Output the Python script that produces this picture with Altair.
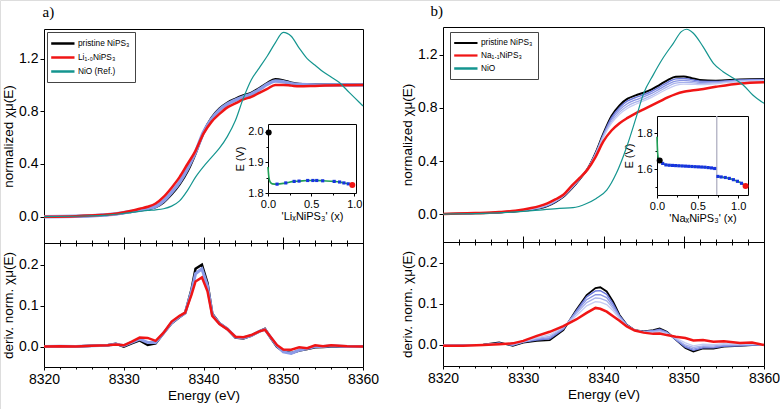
import altair as alt
import pandas as pd

FONT = "Liberation Sans"
SERIF = "Liberation Serif"
BLACK, RED, TEAL = "#000000", "#f01515", "#14958f"
GREEN, DOTBLUE = "#1f9e55", "#1733e0"

# ---------------- energy grids / ticks ----------------
E_TOP = [8320, 8324, 8327, 8329, 8331, 8332, 8333, 8334, 8335, 8336, 8337, 8338, 8339, 8340,
         8341, 8342, 8343, 8344, 8345, 8346, 8347, 8348, 8349, 8350, 8351, 8352, 8354, 8357, 8360]
E_MAJOR = [8320, 8330, 8340, 8350, 8360]
E_MINOR = [8322, 8324, 8326, 8328, 8332, 8334, 8336, 8338, 8342, 8344, 8346, 8348,
           8352, 8354, 8356, 8358]

# ---------------- panel a : XANES ----------------
A_NAMES = ["pristine NiPS₃", "Li₁.₀NiPS₃", "NiO (Ref.)"]
A_PRISTINE = [0.0, 0.003, 0.01, 0.02, 0.038, 0.048, 0.058, 0.072, 0.11, 0.17, 0.245, 0.345, 0.48, 0.64,
              0.75, 0.82, 0.865, 0.895, 0.92, 0.94, 0.975, 1.015, 1.043, 1.035, 1.018, 1.008, 1.003, 1.002, 1.002]
A_BLUE = [0.0, 0.003, 0.011, 0.021, 0.04, 0.051, 0.062, 0.078, 0.12, 0.185, 0.262, 0.365, 0.49, 0.64,
          0.74, 0.81, 0.855, 0.885, 0.91, 0.93, 0.965, 1.005, 1.03, 1.025, 1.01, 1.003, 1.0, 1.0, 1.0]
A_LI = [0.0, 0.004, 0.012, 0.022, 0.045, 0.06, 0.075, 0.1, 0.15, 0.22, 0.30, 0.40, 0.50, 0.63,
        0.72, 0.78, 0.83, 0.86, 0.89, 0.91, 0.94, 0.97, 1.0, 1.0, 0.995, 0.99, 0.993, 0.998, 1.0]
E_NIO_A = [8320, 8325, 8328, 8330, 8332, 8333, 8334, 8335, 8336, 8337, 8338, 8339, 8340, 8341, 8342,
           8343, 8344, 8345, 8346, 8347, 8348, 8349, 8350, 8351, 8352, 8353, 8354, 8355, 8356, 8357,
           8358, 8359, 8360]
A_NIO = [0.0, 0.005, 0.012, 0.025, 0.04, 0.048, 0.052, 0.06, 0.08, 0.12, 0.2, 0.3, 0.38, 0.45, 0.52,
         0.61, 0.73, 0.9, 1.04, 1.13, 1.22, 1.32, 1.40, 1.37, 1.28, 1.2, 1.15, 1.10, 1.06, 1.02,
         0.96, 0.9, 0.84]

# ---------------- panel a : derivative ----------------
E_DER_A = [8320, 8322, 8324, 8326, 8328, 8329, 8330, 8331, 8332, 8333, 8334, 8335, 8336, 8337,
           8337.7, 8338.5, 8339, 8339.8, 8340.5, 8341.1, 8342, 8343, 8344, 8345, 8346, 8347, 8347.7,
           8348.4, 8349.2, 8350, 8351, 8352, 8353, 8354, 8355, 8356, 8358, 8360]
DA_PRISTINE = [0.0, 0.001, 0.0, 0.002, 0.003, 0.007, 0.0, 0.008, 0.015, 0.004, 0.008, 0.033, 0.057,
               0.072, 0.082, 0.14, 0.19, 0.2, 0.155, 0.08, 0.057, 0.043, 0.022, 0.02, 0.027, 0.037,
               0.043, 0.022, 0.0, -0.012, -0.016, -0.01, -0.006, -0.002, -0.001, 0.0, 0.0, 0.0]
DA_BLUE = [0.0, 0.001, 0.0, 0.002, 0.003, 0.006, 0.002, 0.01, 0.018, 0.01, 0.01, 0.033, 0.058,
           0.073, 0.082, 0.135, 0.178, 0.19, 0.148, 0.078, 0.056, 0.043, 0.023, 0.021, 0.027, 0.037,
           0.042, 0.023, 0.002, -0.013, -0.017, -0.009, -0.005, 0.0, 0.0, 0.002, 0.0, 0.0]
DA_LI = [0.0, 0.001, 0.0, 0.002, 0.003, 0.005, 0.003, 0.012, 0.022, 0.021, 0.014, 0.034, 0.061,
         0.075, 0.083, 0.127, 0.159, 0.169, 0.135, 0.075, 0.055, 0.042, 0.024, 0.023, 0.028, 0.037,
         0.041, 0.024, 0.004, -0.007, -0.008, -0.002, -0.004, 0.003, 0.001, 0.003, 0.001, 0.0]

# ---------------- panel b : XANES ----------------
B_NAMES = ["pristine NiPS₃", "Na₁.₁NiPS₃", "NiO"]
B_PRISTINE = [0.0, 0.005, 0.012, 0.02, 0.033, 0.043, 0.06, 0.09, 0.13, 0.19, 0.26, 0.34, 0.46, 0.61,
              0.74, 0.82, 0.87, 0.895, 0.915, 0.94, 0.975, 1.01, 1.035, 1.037, 1.025, 1.012, 1.006, 1.015, 1.018]
B_BLUE1 = [0.0, 0.005, 0.012, 0.021, 0.034, 0.045, 0.062, 0.092, 0.132, 0.192, 0.261, 0.34, 0.456, 0.603,
           0.727, 0.804, 0.853, 0.879, 0.90, 0.926, 0.96, 0.994, 1.02, 1.023, 1.014, 1.003, 1.001, 1.011, 1.015]
B_BLUE2 = [0.0, 0.006, 0.013, 0.021, 0.036, 0.047, 0.065, 0.095, 0.134, 0.195, 0.263, 0.339, 0.453, 0.595,
           0.713, 0.786, 0.834, 0.861, 0.884, 0.91, 0.944, 0.978, 1.003, 1.008, 1.002, 0.994, 0.995, 1.008, 1.012]
B_BLUE3 = [0.0, 0.006, 0.013, 0.022, 0.038, 0.049, 0.068, 0.098, 0.136, 0.198, 0.264, 0.338, 0.449, 0.587,
           0.698, 0.769, 0.815, 0.844, 0.867, 0.894, 0.928, 0.961, 0.987, 0.993, 0.991, 0.984, 0.989, 1.004, 1.009]
B_BLUE4 = [0.0, 0.006, 0.014, 0.023, 0.039, 0.052, 0.07, 0.10, 0.138, 0.20, 0.265, 0.338, 0.445, 0.58,
           0.685, 0.753, 0.798, 0.828, 0.853, 0.88, 0.913, 0.945, 0.97, 0.98, 0.979, 0.976, 0.983, 1.0, 1.006]
B_NA = [0.0, 0.007, 0.015, 0.025, 0.045, 0.06, 0.08, 0.11, 0.145, 0.21, 0.27, 0.335, 0.43, 0.55,
        0.63, 0.685, 0.725, 0.76, 0.79, 0.82, 0.85, 0.88, 0.905, 0.922, 0.932, 0.94, 0.96, 0.985, 0.995]
E_NIO_B = [8320, 8325, 8328, 8330, 8332, 8334.5, 8336.2, 8337.9, 8339.1, 8340.4, 8341.6, 8342.9, 8344.1,
           8345, 8346.2, 8347.4, 8348.7, 8349.7, 8350.35, 8351.2, 8352.4, 8353.7, 8354.9, 8356.2,
           8357.4, 8358.6, 8360]
B_NIO = [0.0, 0.005, 0.012, 0.02, 0.03, 0.043, 0.048, 0.08, 0.118, 0.18, 0.307, 0.508, 0.735, 0.91,
         1.05, 1.175, 1.288, 1.376, 1.394, 1.364, 1.263, 1.137, 1.074, 1.024, 0.974, 0.898, 0.835]

# ---------------- panel b : derivative ----------------
E_DER_B = [8320, 8322.5, 8325, 8327, 8328.7, 8330, 8331.7, 8333.3, 8335, 8336.6, 8337.9, 8339, 8339.6,
           8340.4, 8341.2, 8342, 8342.9, 8343.9, 8345, 8346.2, 8347, 8347.9, 8349, 8350.2, 8351.2,
           8352.4, 8353.7, 8355, 8357, 8358.5, 8360]
DB_PRISTINE = [0.0, 0.0, 0.001, 0.006, -0.002, 0.006, 0.01, 0.012, 0.036, 0.085, 0.121, 0.138, 0.14,
               0.13, 0.105, 0.073, 0.049, 0.036, 0.033, 0.036, 0.04, 0.032, 0.013, -0.007, -0.016,
               -0.008, -0.009, -0.004, -0.002, 0.0, 0.0]
DB_BLUE1 = [0.0, 0.0, 0.001, 0.005, -0.001, 0.007, 0.012, 0.015, 0.038, 0.083, 0.117, 0.131, 0.132,
            0.123, 0.1, 0.071, 0.049, 0.036, 0.033, 0.035, 0.038, 0.031, 0.013, -0.005, -0.013,
            -0.007, -0.007, -0.003, -0.002, 0.0, 0.0]
DB_BLUE2 = [0.0, 0.0, 0.001, 0.004, 0.0, 0.007, 0.014, 0.018, 0.04, 0.08, 0.11, 0.122, 0.122,
            0.115, 0.094, 0.069, 0.048, 0.036, 0.032, 0.034, 0.036, 0.03, 0.014, -0.003, -0.01,
            -0.004, -0.005, -0.001, 0.0, 0.001, 0.0]
DB_BLUE3 = [0.0, -0.001, 0.001, 0.004, 0.001, 0.008, 0.016, 0.021, 0.042, 0.076, 0.103, 0.114, 0.113,
            0.107, 0.089, 0.067, 0.047, 0.036, 0.032, 0.032, 0.034, 0.029, 0.015, 0.0, -0.006,
            -0.002, -0.002, 0.001, 0.001, 0.002, 0.0]
DB_BLUE4 = [-0.001, -0.001, 0.0, 0.003, 0.002, 0.008, 0.018, 0.025, 0.044, 0.071, 0.095, 0.105, 0.104,
            0.098, 0.083, 0.064, 0.046, 0.036, 0.031, 0.03, 0.032, 0.027, 0.017, 0.005, -0.002,
            0.002, 0.001, 0.003, 0.002, 0.003, 0.0]
DB_NA = [-0.002, -0.002, 0.0, 0.002, 0.004, 0.01, 0.022, 0.032, 0.046, 0.062, 0.078, 0.09, 0.088,
         0.081, 0.07, 0.059, 0.045, 0.035, 0.03, 0.027, 0.028, 0.024, 0.02, 0.017, 0.011, 0.012,
         0.008, 0.009, 0.005, 0.006, 0.0]

# ---------------- insets ----------------
IA_LINE_X = [0.0, 0.01, 0.025, 0.05, 0.105, 0.206, 0.303, 0.36, 0.46, 0.52, 0.565, 0.634, 0.767,
             0.83, 0.88, 0.93, 0.977]
IA_LINE_Y = [1.885, 1.852, 1.836, 1.83, 1.829, 1.833, 1.838, 1.839, 1.841, 1.841, 1.841, 1.84, 1.838,
             1.836, 1.833, 1.83, 1.826]
IA_LINE_SEG = [0] * 17
IA_DOT_X = [0.105, 0.206, 0.303, 0.36, 0.46, 0.52, 0.565, 0.634, 0.767, 0.83, 0.88, 0.93]
IA_DOT_Y = [1.829, 1.833, 1.838, 1.839, 1.841, 1.841, 1.841, 1.84, 1.838, 1.836, 1.833, 1.83]
IA_START = ([0.008], [1.998])
IA_END = ([0.977], [1.826])

IB_LINE_X = [0.0, 0.008, 0.02, 0.033, 0.07, 0.11, 0.15, 0.19, 0.23, 0.27, 0.31, 0.35, 0.39, 0.43,
             0.47, 0.51, 0.55, 0.59, 0.63, 0.67, 0.71,
             0.75, 0.79, 0.84, 0.89, 0.94, 0.99, 1.04, 1.09]
IB_LINE_Y = [1.78, 1.69, 1.655, 1.648, 1.632, 1.624, 1.622, 1.621, 1.62, 1.619, 1.618, 1.617, 1.616,
             1.615, 1.614, 1.613, 1.612, 1.611, 1.609, 1.607, 1.604,
             1.56, 1.557, 1.554, 1.549, 1.542, 1.533, 1.522, 1.507]
IB_LINE_SEG = [0] * 21 + [1] * 8
IB_DOT_X = [0.07, 0.11, 0.15, 0.19, 0.23, 0.27, 0.31, 0.35, 0.39, 0.43, 0.47, 0.51, 0.55, 0.59,
            0.63, 0.67, 0.71, 0.75, 0.79, 0.84, 0.89, 0.94, 0.99, 1.04]
IB_DOT_Y = [1.632, 1.624, 1.622, 1.621, 1.62, 1.619, 1.618, 1.617, 1.616, 1.615, 1.614, 1.613, 1.612,
            1.611, 1.609, 1.607, 1.604, 1.56, 1.557, 1.554, 1.549, 1.542, 1.533, 1.522]
IB_START = ([0.033], [1.648])
IB_END = ([1.09], [1.507])
IB_BREAK = ([0.735], [1.457], [1.895])

W, H = 780, 409


def dxy(xs, ys, **extra):
    d = {"x": xs, "y": ys}
    d.update(extra)
    return pd.DataFrame(d)


def sc(dom, rng):
    return alt.Scale(domain=dom, range=rng, nice=False, zero=False)


def ax(orient, offset, values=None, labels=False, ticks=True, tick=4, domain=True,
       title=None, fmt=None, lsize=14, tsize=13.5, **kw):
    d = dict(orient=orient, offset=offset, labels=labels, ticks=ticks, domain=domain, grid=False,
             title=title, domainColor="black", tickColor="black", labelColor="black",
             titleColor="black", labelFont=FONT, titleFont=FONT, labelFontSize=lsize,
             titleFontSize=tsize, titleFontWeight="normal", labelFlush=False, labelOverlap=False,
             domainWidth=1, tickWidth=1, labelPadding=2)
    if values is not None:
        d["values"] = values
    if ticks:
        d["tickSize"] = tick
    if fmt:
        d["format"] = fmt
    d.update(kw)
    return alt.Axis(**d)


def enc_xy(xs, ys, xa=None, ya=None, yfield="y:Q"):
    return dict(x=alt.X("x:Q", scale=xs, axis=xa), y=alt.Y(yfield, scale=ys, axis=ya))


def line(df, xs, ys, color, width, xa=None, ya=None, interp="monotone", detail=False):
    e = enc_xy(xs, ys, xa, ya)
    if detail:
        e["detail"] = "seg:N"
    return alt.Chart(df).mark_line(color=color, strokeWidth=width, interpolate=interp).encode(**e)


def ghost(df, xs, ys, xa=None, ya=None):
    return alt.Chart(df).mark_point(opacity=0).encode(**enc_xy(xs, ys, xa, ya))


def panel(c):
    x0, x1 = c["xr"]
    yt, ym, yb = c["yr"]
    xs = sc([8320, 8360], [x0, x1])
    ts = sc(c["tdom"], [ym, yt])
    bs = sc(c["bdom"], [yb, ym])
    L = []

    # ---- top (XANES) ----
    leg = alt.Legend(orient="none", legendX=c["leg"][0], legendY=c["leg"][1], title=None,
                     symbolType="M-1.46,0H3.2", symbolSize=100, labelFont=FONT, labelFontSize=8.3,
                     labelColor="black", labelOffset=13, padding=5, rowPadding=2,
                     strokeColor="#444444", fillColor="white", cornerRadius=0)
    pdf = dxy(E_TOP, c["t_black"], s=[c["names"][0]] * len(E_TOP))
    L.append(alt.Chart(pdf).mark_line(interpolate="monotone").encode(
        x=alt.X("x:Q", scale=xs, axis=ax("top", -yt, ticks=False, title=c["tag"], titleFont=SERIF,
                                          titleFontSize=15, titleX=c["tagxy"][0],
                                          titleY=c["tagxy"][1] - yt, titleAlign="left",
                                          titleBaseline="alphabetic", titleAngle=0)),
        y=alt.Y("y:Q", scale=ts, axis=ax("left", -x0, values=[0, 0.4, 0.8, 1.2], labels=True,
                                          fmt=".1f", title="normalized χμ(E)", titlePadding=3)),
        color=alt.Color("s:O", scale=alt.Scale(domain=c["names"], range=[BLACK, RED, TEAL]), legend=leg),
        strokeWidth=alt.StrokeWidth("s:O", scale=alt.Scale(domain=c["names"], range=c["t_bw"]),
                                    legend=leg),
    ))
    for i, (vals, col, w) in enumerate(c["t_blues"]):
        if i == 0:
            L.append(line(dxy(E_TOP, vals), xs, ts, col, w,
                          xa=ax("top", -ym, values=E_MAJOR, tick=6),
                          ya=ax("right", x1 - W, ticks=False)))
        else:
            L.append(line(dxy(E_TOP, vals), xs, ts, col, w))
    L.append(line(dxy(E_TOP, c["t_red"]), xs, ts, RED, 2.5,
                  xa=ax("top", -ym, values=E_MINOR, tick=3, domain=False)))
    L.append(line(dxy(c["nio"][0], c["nio"][1]), xs, ts, TEAL, 1.2))

    # ---- bottom (derivative) ----
    de = c["d_e"]
    L.append(line(dxy(de, c["d_black"]), xs, bs, BLACK, c["d_bw"], interp="linear",
                  xa=ax("bottom", yb - H, values=E_MAJOR, labels=True, fmt="d",
                        title="Energy (eV)", tick=3, titlePadding=2),
                  ya=ax("left", -x0, values=[0, 0.1, 0.2], labels=True, fmt=".1f",
                        title="deriv. norm. χμ(E)", titlePadding=3)))
    for i, (vals, col, w) in enumerate(c["d_blues"]):
        if i == 0:
            L.append(line(dxy(de, vals), xs, bs, col, w, interp="linear",
                          xa=ax("bottom", ym - H, values=E_MAJOR, tick=6),
                          ya=ax("right", x1 - W, ticks=False)))
        else:
            L.append(line(dxy(de, vals), xs, bs, col, w, interp="linear"))
    L.append(line(dxy(de, c["d_red"]), xs, bs, RED, 2.5, interp="linear",
                  xa=ax("bottom", ym - H, values=E_MINOR, tick=3, domain=False)))
    L.append(ghost(dxy(de, c["d_red"]), xs, bs,
                   xa=ax("bottom", yb - H, values=E_MINOR, tick=2, domain=False)))

    # ---- inset ----
    ix0, ix1 = c["ixr"]
    iyt, iyb = c["iyr"]
    isx = sc(c["ixdom"], [ix0, ix1])
    isy = sc(c["iydom"], [iyb, iyt])
    if c.get("brk"):
        bx, by0, by1 = c["brk"]
        L.append(alt.Chart(pd.DataFrame({"x": bx, "y0": by0, "y1": by1})).mark_rule(
            color="#b9b9c9", strokeWidth=1.5).encode(
            x=alt.X("x:Q", scale=isx, axis=None), y=alt.Y("y0:Q", scale=isy, axis=None), y2="y1:Q"))
    L.append(line(dxy(c["il"][0], c["il"][1], seg=c["il"][2]), isx, isy, GREEN, 1.6,
                  interp="monotone", detail=True,
                  xa=ax("bottom", iyb - H, values=[0, 0.5, 1.0], labels=True, fmt=".1f",
                        title=c["ixtitle"], lsize=11, tsize=11, tick=3, titlePadding=1),
                  ya=ax("left", -ix0, values=c["iyt"], labels=True, fmt=".1f", title="E (V)",
                        lsize=11, tsize=11, tick=3, titlePadding=2)))
    L.append(alt.Chart(dxy(c["idot"][0], c["idot"][1])).mark_square(
        size=10, color=DOTBLUE, opacity=1).encode(
        **enc_xy(isx, isy, ax("top", -iyt, ticks=False), ax("right", ix1 - W, ticks=False))))
    L.append(alt.Chart(dxy(c["istart"][0], c["istart"][1])).mark_circle(
        size=36, color=BLACK, opacity=1).encode(
        **enc_xy(isx, isy, ax("bottom", iyb - H, values=c["ixminor"], tick=2, domain=False),
                 ax("left", -ix0, values=c["iyminor"], tick=2, domain=False))))
    L.append(alt.Chart(dxy(c["iend"][0], c["iend"][1])).mark_circle(
        size=36, color=RED, opacity=1).encode(**enc_xy(isx, isy)))
    return L


PANEL_A = dict(
    xr=(44, 363), yr=(29, 243, 367), tdom=[-0.2, 1.425], bdom=[-0.05, 0.253],
    names=A_NAMES, leg=(47, 32), tag="a)", tagxy=(42, 16), t_bw=[2.5, 2.5, 1.2],
    t_black=A_PRISTINE, t_blues=[(A_BLUE, "#8b9be8", 3.5)], t_red=A_LI, nio=(E_NIO_A, A_NIO),
    d_e=E_DER_A, d_black=DA_PRISTINE, d_bw=2.5, d_blues=[(DA_BLUE, "#8b9be8", 3)], d_red=DA_LI,
    ixr=(268, 356), iyr=(124, 193), ixdom=[0, 1.02], iydom=[1.8, 2.026],
    iyt=[1.8, 1.9, 2.0], iyminor=[1.85, 1.95], ixminor=[0.25, 0.75],
    ixtitle="'LiₓNiPS₃' (x)",
    il=(IA_LINE_X, IA_LINE_Y, IA_LINE_SEG), idot=(IA_DOT_X, IA_DOT_Y),
    istart=IA_START, iend=IA_END,
)

PANEL_B = dict(
    xr=(443, 764), yr=(27, 242, 366), tdom=[-0.211, 1.411], bdom=[-0.051, 0.25],
    names=B_NAMES, leg=(450, 32), tag="b)", tagxy=(430, 15), t_bw=[2.0, 2.5, 1.2],
    t_black=B_PRISTINE,
    t_blues=[(B_BLUE1, "#6b78dc", 1.4), (B_BLUE2, "#8995e4", 1.3),
             (B_BLUE3, "#a7b1ec", 1.3), (B_BLUE4, "#c4cbf3", 1.3)],
    t_red=B_NA, nio=(E_NIO_B, B_NIO),
    d_e=E_DER_B, d_black=DB_PRISTINE, d_bw=1.8,
    d_blues=[(DB_BLUE1, "#6b78dc", 1.4), (DB_BLUE2, "#8995e4", 1.3),
             (DB_BLUE3, "#a7b1ec", 1.3), (DB_BLUE4, "#c4cbf3", 1.3)],
    d_red=DB_NA,
    ixr=(657, 748), iyr=(116, 195), ixdom=[0, 1.12], iydom=[1.457, 1.895],
    iyt=[1.6, 1.8], iyminor=[1.5, 1.7], ixminor=[0.25, 0.75],
    ixtitle="'NaₓNiPS₃' (x)",
    il=(IB_LINE_X, IB_LINE_Y, IB_LINE_SEG), idot=(IB_DOT_X, IB_DOT_Y),
    istart=IB_START, iend=IB_END, brk=IB_BREAK,
)

layers = panel(PANEL_A) + panel(PANEL_B)

chart = alt.layer(*layers).resolve_scale(
    x="independent", y="independent", color="independent", strokeWidth="independent"
).resolve_axis(x="independent", y="independent").resolve_legend(
    color="independent", strokeWidth="independent"
).properties(
    width=W, height=H, autosize=alt.AutoSizeParams(type="none"), padding=0, background="white"
).configure_view(stroke=None).configure(font=FONT)

chart.save("out.html", embed_options={"renderer": "svg", "actions": False})
